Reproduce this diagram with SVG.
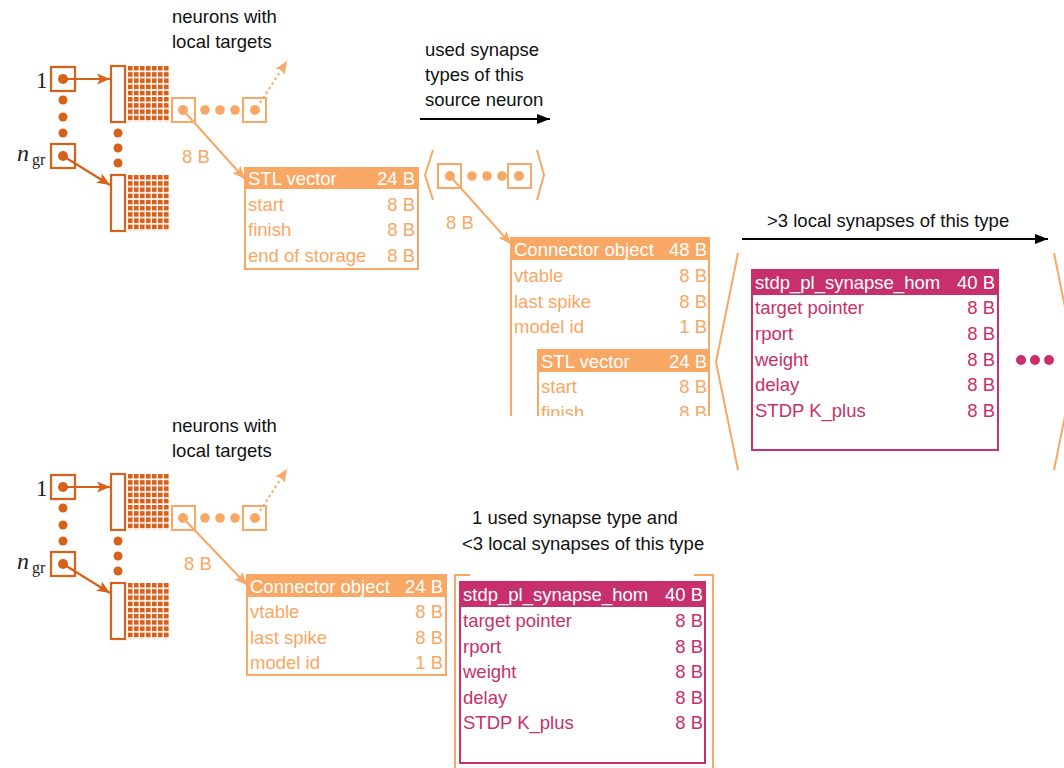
<svg xmlns="http://www.w3.org/2000/svg" width="1064" height="768" viewBox="0 0 1064 768">
  <style>
    text { font-family: "Liberation Sans", Arial, sans-serif; font-size: 18.5px; }
    .lbl { fill: #111; }
    .math { font-family: "Liberation Serif", "Times New Roman", serif; fill: #222; font-size: 23px; }
    .mathIt { font-style: italic; font-size: 24px; }
    .sub { font-size: 16px; }
    .dk { fill: none; stroke: #D8611A; stroke-width: 2.2; }
    .dkf { fill: #D8611A; }
    .lt { fill: none; stroke: #F8A764; stroke-width: 2; }
    .ltf { fill: #F8A764; }
    .ltt { fill: #F8A764; }
    .mg { fill: none; stroke: #C7306C; stroke-width: 2; }
    .mgf { fill: #C7306C; }
    .mgt { fill: #C7306C; }
    .hdr { fill: #fff; }
    .r { text-anchor: end; }
    .blk { stroke: #000; stroke-width: 2; fill: none; }
  </style>
  <defs>
    <pattern id="cells" width="6" height="6.2" patternUnits="userSpaceOnUse">
      <rect width="4.6" height="4.6" fill="#D8611A"/>
    </pattern>
    <marker id="ahDark" markerWidth="13" markerHeight="11" refX="13" refY="5.5" orient="auto" markerUnits="userSpaceOnUse">
      <path d="M0,0 L13,5.5 L0,11 L3,5.5 Z" fill="#D8611A"/>
    </marker>
    <marker id="ahLight" markerWidth="13" markerHeight="11" refX="13" refY="5.5" orient="auto" markerUnits="userSpaceOnUse">
      <path d="M0,0 L13,5.5 L0,11 L3,5.5 Z" fill="#F8A764"/>
    </marker>
    <marker id="ahBlack" markerWidth="13" markerHeight="10" refX="13" refY="5" orient="auto" markerUnits="userSpaceOnUse">
      <path d="M0,0 L13,5 L0,10 Z" fill="#000"/>
    </marker>
    <clipPath id="cutConn">
      <rect x="490" y="220" width="240" height="196"/>
    </clipPath>

    <!-- neuron table: group boxes, column arrays and pointer row -->
    <g id="neuronTable">
      <text class="math" x="36" y="88">1</text>
      <rect class="dk" x="51" y="67" width="24" height="24"/>
      <circle class="dkf" cx="63" cy="79" r="5"/>
      <circle class="dkf" cx="63" cy="100" r="4.5"/>
      <circle class="dkf" cx="63" cy="117" r="4.5"/>
      <circle class="dkf" cx="63" cy="133" r="4.5"/>
      <text class="math mathIt" x="17" y="161">n</text>
      <text class="math sub" x="32" y="165">gr</text>
      <rect class="dk" x="51" y="144" width="24" height="24"/>
      <circle class="dkf" cx="63" cy="156" r="5"/>

      <rect class="dk" x="111" y="66" width="14" height="56" fill="#fff"/>
      <g transform="translate(128,66)"><rect width="42" height="56" fill="url(#cells)"/></g>
      <circle class="dkf" cx="118" cy="133" r="4.5"/>
      <circle class="dkf" cx="118" cy="148" r="4.5"/>
      <circle class="dkf" cx="118" cy="163" r="4.5"/>
      <rect class="dk" x="111" y="175" width="14" height="56" fill="#fff"/>
      <g transform="translate(128,175)"><rect width="42" height="56" fill="url(#cells)"/></g>

      <line class="dk" x1="63" y1="79" x2="110" y2="79" marker-end="url(#ahDark)"/>
      <line class="dk" x1="63" y1="156" x2="110" y2="185" marker-end="url(#ahDark)"/>

      <rect class="lt" x="172" y="98" width="23" height="24"/>
      <circle class="ltf" cx="183" cy="110" r="5"/>
      <circle class="ltf" cx="205" cy="110" r="4.8"/>
      <circle class="ltf" cx="220" cy="110" r="4.8"/>
      <circle class="ltf" cx="235" cy="110" r="4.8"/>
      <rect class="lt" x="243" y="98" width="23" height="24"/>
      <circle class="ltf" cx="255" cy="110" r="5"/>
      <line class="lt" x1="260" y1="103" x2="287" y2="61" stroke-dasharray="2.5 3" marker-end="url(#ahLight)"/>
    </g>
  </defs>

  <!-- upper case: several synapse types -->
  <g id="neuronsTop">
    <use href="#neuronTable"/>
    <text class="lbl" x="172" y="23">neurons with</text>
    <text class="lbl" x="172" y="48">local targets</text>
  </g>

  <g id="stlVectorTop">
    <rect class="ltf" x="245" y="168" width="173" height="21"/>
    <rect class="lt" x="245" y="168" width="173" height="101"/>
    <text class="hdr" x="248" y="185">STL vector</text>
    <text class="hdr r" x="415" y="185">24 B</text>
    <text class="ltt" x="248" y="211">start</text>
    <text class="ltt r" x="415" y="211">8 B</text>
    <text class="ltt" x="248" y="236">finish</text>
    <text class="ltt r" x="415" y="236">8 B</text>
    <text class="ltt" x="248" y="262">end of storage</text>
    <text class="ltt r" x="415" y="262">8 B</text>
  </g>

  <g id="synapseTypes">
    <polyline class="lt" points="433,150 425,175 433,200"/>
    <polyline class="lt" points="537,150 544,175 537,200"/>
    <rect class="lt" x="438" y="164" width="23" height="24"/>
    <circle class="ltf" cx="450" cy="176" r="5"/>
    <circle class="ltf" cx="472" cy="176" r="4.8"/>
    <circle class="ltf" cx="487" cy="176" r="4.8"/>
    <circle class="ltf" cx="502" cy="176" r="4.8"/>
    <rect class="lt" x="508" y="164" width="23" height="24"/>
    <circle class="ltf" cx="519" cy="176" r="5"/>
    <text class="lbl" x="425" y="56">used synapse</text>
    <text class="lbl" x="425" y="81">types of this</text>
    <text class="lbl" x="425" y="106">source neuron</text>
  </g>

  <g id="connectorTop" clip-path="url(#cutConn)">
    <rect class="ltf" x="511" y="238" width="198" height="22"/>
    <rect class="lt" x="511" y="238" width="198" height="240"/>
    <text class="hdr" x="514" y="256">Connector object</text>
    <text class="hdr r" x="707" y="256">48 B</text>
    <text class="ltt" x="514" y="282">vtable</text>
    <text class="ltt r" x="707" y="282">8 B</text>
    <text class="ltt" x="514" y="308">last spike</text>
    <text class="ltt r" x="707" y="308">8 B</text>
    <text class="ltt" x="514" y="333">model id</text>
    <text class="ltt r" x="707" y="333">1 B</text>
    <rect class="ltf" x="538" y="350" width="171" height="22"/>
    <rect class="lt" x="538" y="350" width="171" height="120"/>
    <text class="hdr" x="541" y="368">STL vector</text>
    <text class="hdr r" x="707" y="368">24 B</text>
    <text class="ltt" x="541" y="393">start</text>
    <text class="ltt r" x="707" y="393">8 B</text>
    <text class="ltt" x="541" y="419">finish</text>
    <text class="ltt r" x="707" y="419">8 B</text>
  </g>

  <g id="synapsesTop">
    <polyline class="lt" points="738,253 716,362 738,470"/>
    <polyline class="lt" points="1054,253 1076,362 1054,470"/>
    <rect class="mgf" x="752" y="270" width="246" height="25"/>
    <rect class="mg" x="752" y="270" width="246" height="180"/>
    <text class="hdr" x="755" y="289">stdp_pl_synapse_hom</text>
    <text class="hdr r" x="995" y="289">40 B</text>
    <text class="mgt" x="755" y="314">target pointer</text>
    <text class="mgt r" x="995" y="314">8 B</text>
    <text class="mgt" x="755" y="340">rport</text>
    <text class="mgt r" x="995" y="340">8 B</text>
    <text class="mgt" x="755" y="366">weight</text>
    <text class="mgt r" x="995" y="366">8 B</text>
    <text class="mgt" x="755" y="391">delay</text>
    <text class="mgt r" x="995" y="391">8 B</text>
    <text class="mgt" x="755" y="417">STDP K_plus</text>
    <text class="mgt r" x="995" y="417">8 B</text>
    <circle class="mgf" cx="1021" cy="360" r="5"/>
    <circle class="mgf" cx="1035" cy="360" r="5"/>
    <circle class="mgf" cx="1049" cy="360" r="5"/>
    <text class="lbl" x="767" y="227">&gt;3 local synapses of this type</text>
  </g>

  <!-- lower case: one synapse type, few synapses -->
  <g id="neuronsBottom">
    <use href="#neuronTable" y="408"/>
    <text class="lbl" x="172" y="432">neurons with</text>
    <text class="lbl" x="172" y="457">local targets</text>
  </g>

  <g id="connectorBottom">
    <rect class="ltf" x="247" y="575" width="199" height="22"/>
    <rect class="lt" x="247" y="575" width="199" height="100"/>
    <text class="hdr" x="250" y="593">Connector object</text>
    <text class="hdr r" x="443" y="593">24 B</text>
    <text class="ltt" x="250" y="618">vtable</text>
    <text class="ltt r" x="443" y="618">8 B</text>
    <text class="ltt" x="250" y="644">last spike</text>
    <text class="ltt r" x="443" y="644">8 B</text>
    <text class="ltt" x="250" y="669">model id</text>
    <text class="ltt r" x="443" y="669">1 B</text>
  </g>

  <g id="synapsesBottom">
    <polyline class="lt" points="470,575 455,575 455,770"/>
    <polyline class="lt" points="694,575 713,575 713,770"/>
    <rect class="mgf" x="460" y="582" width="245" height="25"/>
    <rect class="mg" x="460" y="582" width="245" height="181"/>
    <text class="hdr" x="463" y="601">stdp_pl_synapse_hom</text>
    <text class="hdr r" x="703" y="601">40 B</text>
    <text class="mgt" x="463" y="627">target pointer</text>
    <text class="mgt r" x="703" y="627">8 B</text>
    <text class="mgt" x="463" y="653">rport</text>
    <text class="mgt r" x="703" y="653">8 B</text>
    <text class="mgt" x="463" y="678">weight</text>
    <text class="mgt r" x="703" y="678">8 B</text>
    <text class="mgt" x="463" y="704">delay</text>
    <text class="mgt r" x="703" y="704">8 B</text>
    <text class="mgt" x="463" y="729">STDP K_plus</text>
    <text class="mgt r" x="703" y="729">8 B</text>
    <text class="lbl" x="472" y="524">1 used synapse type and</text>
    <text class="lbl" x="462" y="550">&lt;3 local synapses of this type</text>
  </g>

  <!-- pointers and direction arrows -->
  <g id="connectors">
    <line class="lt" x1="183" y1="110" x2="245" y2="179" marker-end="url(#ahLight)"/>
    <text class="ltt" x="182" y="163">8 B</text>
    <line class="lt" x1="450" y1="176" x2="511" y2="244" marker-end="url(#ahLight)"/>
    <text class="ltt" x="446" y="229">8 B</text>
    <line class="lt" x1="183" y1="518" x2="247" y2="585" marker-end="url(#ahLight)"/>
    <text class="ltt" x="184" y="570">8 B</text>
    <line class="blk" x1="420" y1="119" x2="550" y2="119" marker-end="url(#ahBlack)"/>
    <line class="blk" x1="742" y1="239" x2="1048" y2="239" marker-end="url(#ahBlack)"/>
  </g>
</svg>
